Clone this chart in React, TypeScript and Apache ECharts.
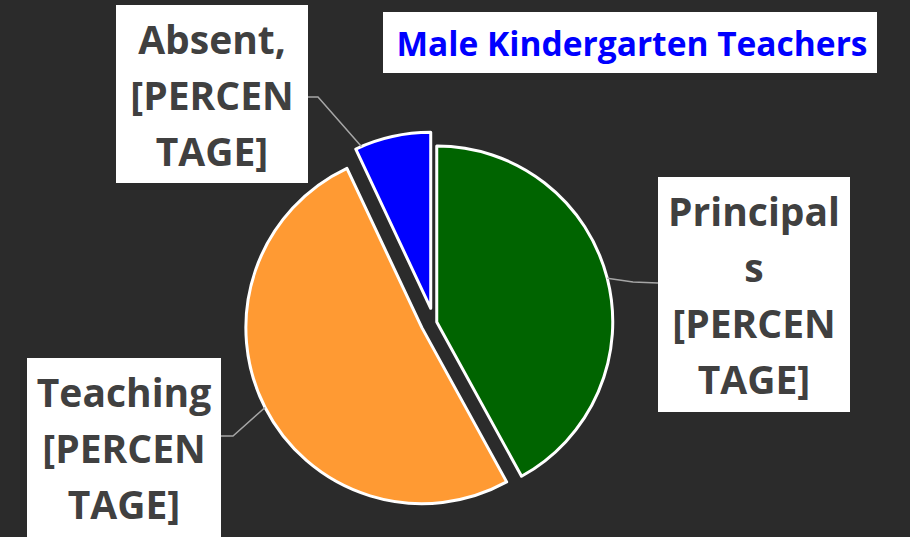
import React, { useEffect, useRef } from "react";
import * as echarts from "echarts";

const categories = ["Principals", "Teaching", "Absent"];
const values = [42, 51, 7];
const colors = ["#006400", "#FF9A33", "#0000FF"];
const labelTexts = [
  "Principal\ns\n[PERCEN\nTAGE]",
  "Teaching\n[PERCEN\nTAGE]",
  "Absent,\n[PERCEN\nTAGE]",
];
const titleText = "Male Kindergarten Teachers";

const CENTER = [429, 324];
const BLUE_CENTER = [434, 323];
const RADIUS = 176;
const OFFSETS = [8, 8, 15];

// label boxes (left, top, width, height), leader-line elbow/end, and where on the slice the line starts
const labelBoxes = [
  { left: 658, top: 177, w: 192, h: 235, elbow: [633, 282], end: [658, 283], anchorFrac: 0.5 },
  { left: 27, top: 358, w: 194, h: 179, elbow: [233, 436], end: [221, 436], anchorFrac: 0.5 },
  { left: 116, top: 5, w: 192, h: 178, elbow: [318, 97], end: [308, 97], anchorFrac: 0.08 },
];

export default function App() {
  const ref = useRef<HTMLDivElement>(null);
  useEffect(() => {
    if (!ref.current) return;
    const chart = echarts.init(ref.current, null, { renderer: "svg" });

    const total = values.reduce((a, b) => a + b, 0);
    let acc = 0;
    const slices = values.map((v) => {
      const a0 = (acc / total) * 360;
      acc += v;
      const a1 = (acc / total) * 360;
      return { a0, a1 };
    });

    const rad = (d: number) => (d * Math.PI) / 180;
    const anchorPoint = (i: number) => {
      const { a0, a1 } = slices[i];
      const mid = (a0 + a1) / 2;
      const c = i === 2 ? BLUE_CENTER : CENTER;
      const cx = c[0] + OFFSETS[i] * Math.sin(rad(mid));
      const cy = c[1] - OFFSETS[i] * Math.cos(rad(mid));
      const a = a0 + labelBoxes[i].anchorFrac * (a1 - a0);
      return [cx + RADIUS * Math.sin(rad(a)), cy - RADIUS * Math.cos(rad(a))];
    };

    const labelGraphics: any[] = [];
    labelBoxes.forEach((b, i) => {
      labelGraphics.push({
        type: "polyline",
        z: 20,
        shape: { points: [anchorPoint(i), b.elbow, b.end] },
        style: { stroke: "#a6a6a6", lineWidth: 1.5, fill: null },
      });
      labelGraphics.push({
        type: "rect",
        z: 21,
        shape: { x: b.left, y: b.top, width: b.w, height: b.h },
        style: { fill: "#ffffff" },
      });
      labelGraphics.push({
        type: "text",
        z: 22,
        x: b.left + b.w / 2,
        y: b.top + b.h / 2,
        style: {
          text: labelTexts[i],
          fill: "#404040",
          font: "bold 39px 'Open Sans'",
          lineHeight: 56,
          align: "center",
          verticalAlign: "middle",
        },
      });
    });

    const makeData = (visibleIdx: number[]) =>
      categories.map((name, i) => {
        const vis = visibleIdx.includes(i);
        return {
          name,
          value: values[i],
          selected: true,
          itemStyle: vis
            ? { color: colors[i], borderColor: "#ffffff", borderWidth: 3 }
            : { color: "rgba(0,0,0,0)", borderWidth: 0 },
        };
      });

    const baseSeries = {
      type: "pie",
      radius: RADIUS,
      startAngle: 90,
      clockwise: true,
      selectedMode: "multiple",
      avoidLabelOverlap: false,
      emphasis: { disabled: true },
      label: { show: false },
      labelLine: { show: false },
    };

    chart.setOption({
      animation: false,
      backgroundColor: "#2b2b2b",
      graphic: [
        {
          type: "rect",
          z: 10,
          shape: { x: 383, y: 12, width: 494, height: 61 },
          style: { fill: "#ffffff" },
        },
        {
          type: "text",
          z: 11,
          x: 632,
          y: 43,
          style: {
            text: titleText,
            fill: "#0000FF",
            font: "bold 33.5px 'Open Sans'",
            align: "center",
            verticalAlign: "middle",
          },
        },
        ...labelGraphics,
      ],
      series: [
        { ...baseSeries, center: CENTER, selectedOffset: OFFSETS[0], data: makeData([0, 1]) },
        { ...baseSeries, center: BLUE_CENTER, selectedOffset: OFFSETS[2], data: makeData([2]) },
      ],
    });
    return () => chart.dispose();
  }, []);
  return (
    <div
      ref={ref}
      style={{ position: "absolute", left: 0, top: 0, width: 910, height: 537 }}
    />
  );
}
